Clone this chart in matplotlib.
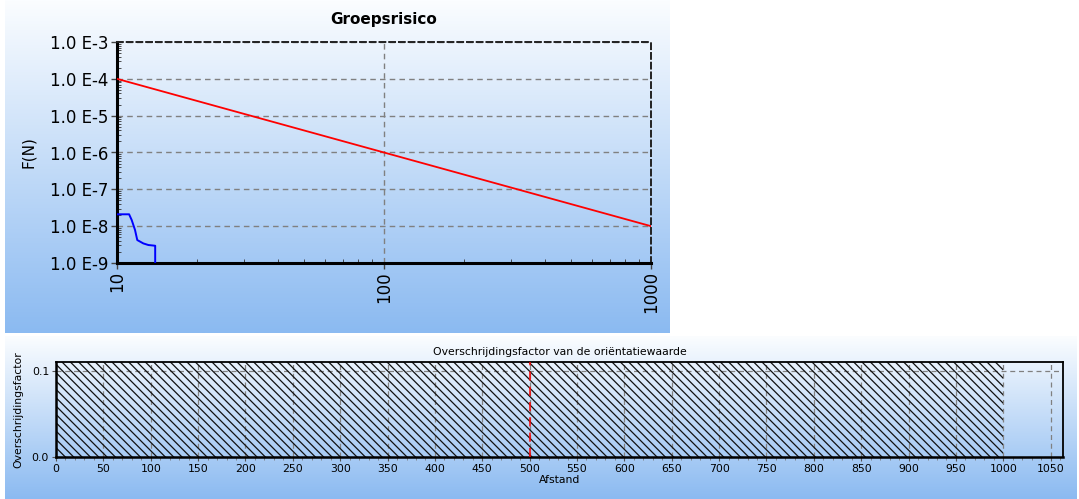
import numpy as np
import matplotlib
matplotlib.use("Agg")
import matplotlib.pyplot as plt
from matplotlib.colors import LinearSegmentedColormap
from matplotlib.ticker import FixedLocator, MultipleLocator, LogLocator, NullFormatter

plt.rcParams['font.family'] = ['DejaVu Sans']
plt.rcParams['hatch.linewidth'] = 0.9

# --- Groepsrisico (FN-curve) data ---
fn_N = [10, 11.1, 11.35, 11.68, 11.91, 12.55, 13.1, 13.9, 13.9]
fn_F = [2.1e-8, 2.1e-8, 1.47e-8, 7.9e-9, 4.2e-9, 3.4e-9, 3.08e-9, 2.94e-9, 1.0e-9]
norm_N = [10, 1000]
norm_F = [1e-4, 1e-8]
fn_yticks = [1e-9, 1e-8, 1e-7, 1e-6, 1e-5, 1e-4, 1e-3]
fn_ylabels = ["1.0 E-9", "1.0 E-8", "1.0 E-7", "1.0 E-6", "1.0 E-5", "1.0 E-4", "1.0 E-3"]
fn_xticks = [10, 100, 1000]
fn_xlabels = ["10", "100", "1000"]

# --- Overschrijdingsfactor data ---
hatch_start, hatch_end = 0, 1000
marker_distance = 500
dist_ticks = list(range(0, 1051, 50))
factor_ticks = [0.0, 0.1]
factor_labels = ["0.0", "0.1"]

W, H = 1079, 499
fig = plt.figure(figsize=(W / 100, H / 100), dpi=100)
fig.patch.set_facecolor("white")

grad = LinearSegmentedColormap.from_list("panel", ["#fbfdff", "#8bbaf1"])


def panel(x0, y0, x1, y1):
    ax = fig.add_axes([x0 / W, 1 - y1 / H, (x1 - x0) / W, (y1 - y0) / H], zorder=-10)
    ax.imshow(np.linspace(0, 1, 256).reshape(-1, 1), aspect="auto", cmap=grad,
              extent=[0, 1, 0, 1], origin="upper")
    ax.axis("off")


panel(5, 0, 670, 333)
panel(5, 336, 1077, 499)

# ---------------- FN curve ----------------
ax1 = fig.add_axes([117 / W, 1 - 263 / H, (651 - 117) / W, (263 - 42) / H])
ax1.patch.set_alpha(0)
ax1.set_xscale("log")
ax1.set_yscale("log")
ax1.set_xlim(10, 1000)
ax1.set_ylim(1e-9, 1e-3)
ax1.plot(norm_N, norm_F, color="#ff0000", lw=1.3, zorder=3)
ax1.plot(fn_N, fn_F, color="#0000ff", lw=1.4, zorder=3)

ax1.yaxis.set_major_locator(FixedLocator(fn_yticks))
ax1.set_yticklabels(fn_ylabels, fontsize=12)
ax1.xaxis.set_major_locator(FixedLocator(fn_xticks))
ax1.set_xticklabels(fn_xlabels, fontsize=12, rotation=90)
ax1.yaxis.set_minor_locator(LogLocator(base=10, subs=np.arange(2, 10)))
ax1.yaxis.set_minor_formatter(NullFormatter())
ax1.xaxis.set_minor_locator(LogLocator(base=10, subs=np.arange(2, 10)))
ax1.xaxis.set_minor_formatter(NullFormatter())
ax1.tick_params(axis="both", which="major", length=4, width=1, color="#444444", pad=2)
ax1.tick_params(axis="y", which="minor", direction="in", length=3, color="#333333")
ax1.tick_params(axis="x", which="minor", direction="in", length=3, color="#333333")
ax1.grid(True, which="major", ls=(0, (4, 3)), color="#808080", lw=1)
for s in ("left", "bottom"):
    ax1.spines[s].set_linewidth(2.2)
    ax1.spines[s].set_color("black")
for s in ("top", "right"):
    ax1.spines[s].set_linestyle((0, (3, 2)))
    ax1.spines[s].set_linewidth(1.4)
    ax1.spines[s].set_color("#222222")
ax1.set_title("Groepsrisico", fontsize=11, fontweight="bold", pad=13)
ax1.set_ylabel("F(N)", fontsize=11, labelpad=10)

# ---------------- Overschrijdingsfactor ----------------
ax2 = fig.add_axes([56 / W, 1 - 457 / H, (1063 - 56) / W, (457 - 362) / H])
ax2.patch.set_alpha(0)
ax2.set_xlim(0, 1063)
ax2.set_ylim(0, 0.11)
ax2.axvspan(hatch_start, hatch_end, facecolor="none", edgecolor="#111111",
            hatch="\\\\\\\\", lw=0, zorder=2)
ax2.axvline(marker_distance, color="#ff0000", ls=(0, (6, 4)), lw=1.1, zorder=3)

ax2.xaxis.set_major_locator(FixedLocator(dist_ticks))
ax2.xaxis.set_minor_locator(MultipleLocator(10))
ax2.yaxis.set_major_locator(FixedLocator(factor_ticks))
ax2.set_yticklabels(factor_labels)
ax2.tick_params(axis="both", which="major", labelsize=7.8, length=3, color="#555555", pad=2)
ax2.tick_params(axis="x", which="minor", length=2, color="#777777")
ax2.grid(True, which="major", ls=(0, (4, 3)), color="#808080", lw=0.9, zorder=1)
for s in ("left", "bottom"):
    ax2.spines[s].set_linewidth(1.8)
for s in ("top", "right"):
    ax2.spines[s].set_linewidth(1.3)
ax2.set_title("Overschrijdingsfactor van de oriëntatiewaarde", fontsize=7.8, pad=5)
ax2.set_xlabel("Afstand", fontsize=7.8, labelpad=1)
ax2.set_ylabel("Overschrijdingsfactor", fontsize=7.8, labelpad=6)

fig.savefig("out.png", dpi=100)
